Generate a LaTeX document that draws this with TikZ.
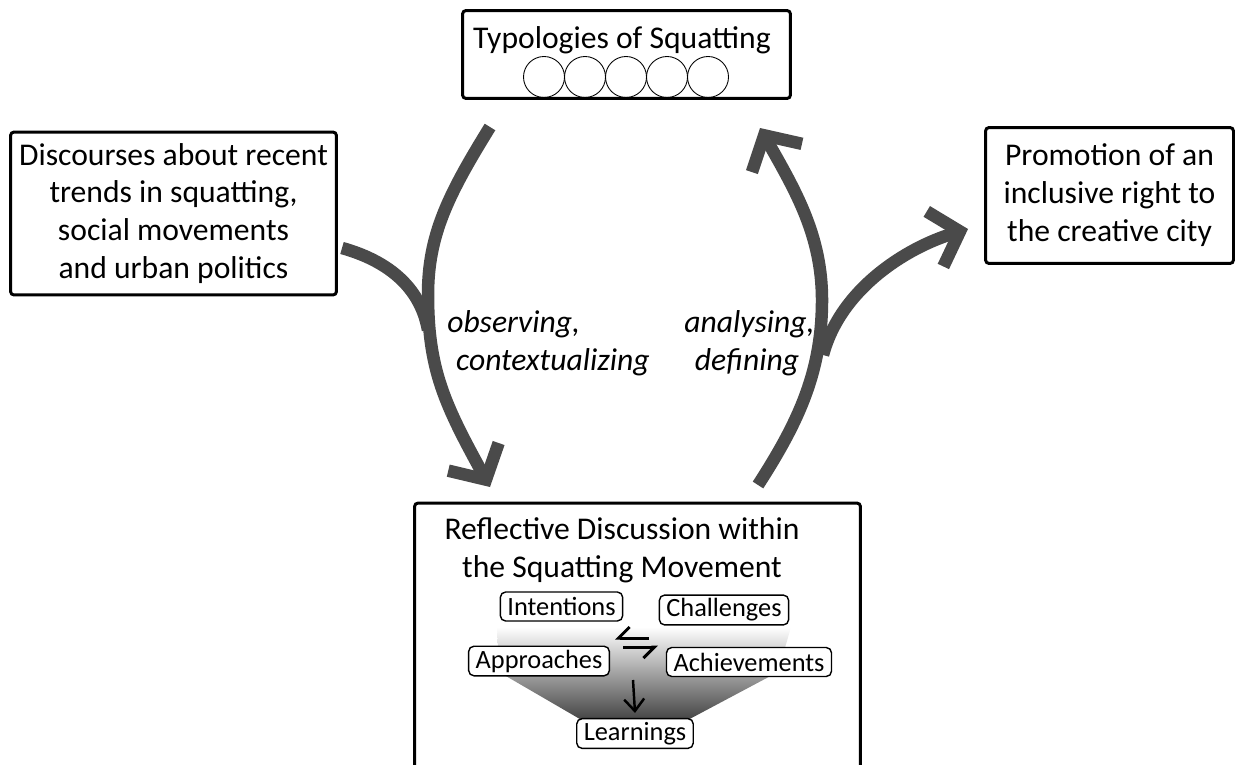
\documentclass[tikz,border=0pt]{standalone}
\usepackage{fontspec}
\setmainfont{Carlito}
\usetikzlibrary{arrows.meta}
\definecolor{arrowgray}{HTML}{4A4A4A}
\tikzstyle{frame} = [rectangle, rounded corners=2pt, draw=black, line width=1.7pt, align=center, font=\fontsize{18}{21.6}\selectfont]
\tikzstyle{plaintext} = [align=center, font=\fontsize{18}{21.6}\selectfont]
\tikzstyle{actiontext} = [align=left, inner sep=0pt, font=\itshape\fontsize{18}{21.6}\selectfont]
\tikzstyle{tag} = [rectangle, rounded corners=3pt, draw=black, line width=0.8pt, fill=white, font=\fontsize{15}{18}\selectfont, inner xsep=4pt, inner ysep=2pt, minimum height=0.58cm]
\tikzstyle{ring} = [circle, draw=black, line width=0.5pt, minimum size=0.82cm, inner sep=0pt]
\tikzstyle{bigline} = [line width=0.25cm, draw=arrowgray]
\tikzstyle{bigarrow} = [bigline, -{Straight Barb[sharp, length=0.52cm, width=1.15cm]}]
\tikzstyle{harpoon} = [line width=1.7pt, -{Straight Barb[right, sharp, length=0.22cm, width=0.44cm]}]
\tikzstyle{smallarrow} = [line width=1.4pt, -{Straight Barb[length=0.24cm, width=0.4cm]}]

\begin{document}
\begin{tikzpicture}[x=0.02cm, y=-0.02cm]
\useasboundingbox (0,0) rectangle (1239,764);
\node (typo) [frame, minimum width=6.56cm, minimum height=1.76cm] at (626.5,54.5) {};
\node (typotext) [plaintext] at (622,40) {Typologies of Squatting};
\foreach \i in {1,...,5}
  \node (ring\i) [ring] at (503+41*\i,77) {};
\node (disc) [frame, minimum width=6.52cm, minimum height=3.26cm] at (173.5,213.5) {Discourses about recent\\trends in squatting,\\social movements\\and urban politics};
\node (promo) [frame, minimum width=4.96cm, minimum height=2.72cm] at (1109.5,195.5) {Promotion of an\\inclusive right to\\the creative city};
\node (reflect) [frame, minimum width=8.92cm, minimum height=5.54cm] at (637.5,641.5) {};
\node (reflecttext) [plaintext] at (622,550) {Reflective Discussion within\\the Squatting Movement};
\shade [top color=white, bottom color=black!75] (497,627) -- (791,627) -- (778,672) -- (684,722) -- (585,722) -- (499,672) -- cycle;
\node (intent) [tag] at (561.5,606.5) {Intentions};
\node (challenge) [tag] at (724,610) {Challenges};
\node (approach) [tag] at (539,661) {Approaches};
\node (achieve) [tag] at (749,662) {Achievements};
\node (learn) [tag] at (635,733.5) {Learnings};
\node (observe) [actiontext, anchor=west] at (447,343) {observing,\\\hspace{5pt}contextualizing};
\node (analyse) [actiontext, anchor=west] at (684,343) {analysing,\\\hspace{6pt}defining};
\coordinate (obsstart) at (490,127);
\coordinate (obsend) at (490,487);
\coordinate (discstart) at (342,248);
\coordinate (discmerge) at (428,330);
\coordinate (anastart) at (758,485);
\coordinate (anaend) at (760,128);
\coordinate (promomerge) at (823,355);
\coordinate (promoend) at (968,229);
\coordinate (harpA) at (649,638);
\coordinate (harpB) at (615,638);
\coordinate (harpC) at (623,647);
\coordinate (harpD) at (658,647);
\coordinate (downstart) at (633,680);
\draw [bigarrow] (obsstart) .. controls (448,195) and (428,235) .. (428,295) .. controls (428,370) and (445,405) .. (obsend);
\draw [bigline] (discstart) .. controls (385,260) and (420,285) .. (discmerge);
\draw [bigarrow] (anastart) .. controls (800,420) and (822,370) .. (822,300) .. controls (822,235) and (795,190) .. (anaend);
\draw [bigarrow] (promomerge) .. controls (840,290) and (905,248) .. (promoend);
\draw [harpoon] (harpA) -- (harpB);
\draw [harpoon] (harpC) -- (harpD);
\draw [smallarrow] (downstart) -- ([yshift=0.1cm]learn.north);
\end{tikzpicture}
\end{document}
